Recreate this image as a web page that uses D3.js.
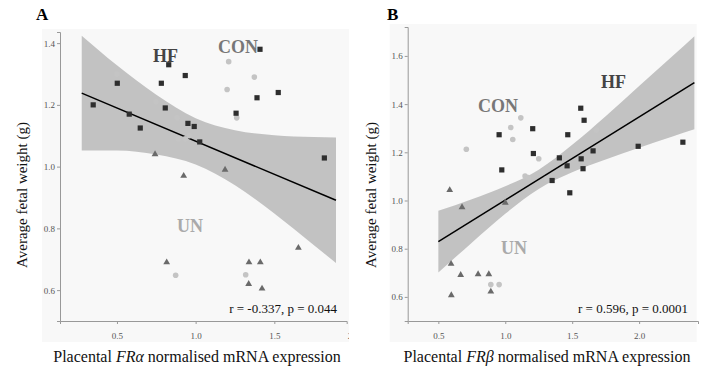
<!DOCTYPE html>
<html>
<head>
<meta charset="utf-8">
<script src="https://cdn.jsdelivr.net/npm/d3@7"></script>
<style>
  body { margin: 0; background: #fff; }
  svg { display: block; }
</style>
</head>
<body>
<script>
// ---- panel A : FR alpha ----
const hfA = [[0.349,1.20],[0.502,1.27],[0.578,1.17],[0.648,1.125],[0.782,1.27],[0.807,1.19],
  [0.829,1.33],[0.934,1.295],[0.951,1.14],[0.991,1.13],[1.026,1.08],[1.257,1.173],
  [1.390,1.223],[1.409,1.38],[1.525,1.24],[1.818,1.028]];
const conA = [[0.50,1.30],[0.748,1.21],[0.883,1.158],[0.890,1.09],[0.934,1.09],[0.958,1.10],
  [1.21,1.34],[1.20,1.25],[1.373,1.29],[1.261,1.158],[0.873,0.648],[1.318,0.65]];
const unA = [[0.742,1.04],[0.924,0.97],[1.187,0.99],[0.816,0.69],[1.339,0.69],[1.411,0.69],
  [1.337,0.62],[1.422,0.605],[1.653,0.737]];
const fitA = [[0.276,1.238],[1.892,0.891]];
const bandA = [[0.276,1.052,1.424],[0.5,1.052,1.328],[0.75,1.039,1.233],[1.0,1.007,1.157],
  [1.25,0.940,1.118],[1.5,0.848,1.102],[1.75,0.746,1.096],[1.892,0.688,1.094]];

// ---- panel B : FR beta ----
const hfB = [[0.954,1.273],[0.974,1.127],[1.205,1.298],[1.21,1.195],[1.35,1.083],[1.404,1.177],
  [1.462,1.144],[1.467,1.273],[1.564,1.383],[1.589,1.333],[1.567,1.173],[1.581,1.132],
  [1.656,1.206],[1.993,1.225],[2.327,1.242],[1.482,1.032]];
const conB = [[0.709,1.213],[1.041,1.303],[1.056,1.253],[1.116,1.343],[1.25,1.173],[1.148,1.102],
  [1.173,1.095],[1.31,1.09],[1.681,1.292],[1.599,1.16],[1.624,1.16],[0.892,0.651],[0.954,0.651]];
const unB = [[0.585,1.043],[0.677,0.972],[1.0,0.991],[0.595,0.737],[0.667,0.691],[0.797,0.694],
  [0.877,0.694],[0.892,0.622],[0.597,0.607]];
const fitB = [[0.5,0.829],[2.413,1.489]];
const bandB = [[0.5,0.701,0.957],[0.75,0.825,1.005],[1.0,0.945,1.059],[1.25,1.048,1.128],
  [1.5,1.117,1.231],[1.75,1.170,1.350],[2.0,1.219,1.475],[2.25,1.266,1.600],[2.413,1.296,1.682]];

const yTicks = [0.6, 0.8, 1.0, 1.2, 1.4, 1.6];
const xTicks = [0.5, 1.0, 1.5, 2.0];

const serif = "'Liberation Serif', 'DejaVu Serif', serif";

const svg = d3.select("body").append("svg")
  .attr("width", 707).attr("height", 370);

svg.append("defs").append("clipPath").attr("id", "clipA")
  .append("rect").attr("x", 0).attr("y", 0).attr("width", 349).attr("height", 370);

function panel(g, o) {
  const x = d3.scaleLinear().domain(o.xDomain).range(o.xRange);
  const y = d3.scaleLinear().domain(o.yDomain).range([321, o.yTop]);

  // faint plot background
  g.append("rect")
    .attr("x", o.xRange[0] - 18).attr("y", o.yTop - 3)
    .attr("width", o.bgW).attr("height", 342 - o.yTop + 3)
    .attr("fill", "#f8f8f8");

  // confidence band
  g.append("path")
    .datum(o.band)
    .attr("fill", "#c2c2c2")
    .attr("d", d3.area().curve(d3.curveMonotoneX)
      .x(d => x(d[0])).y0(d => y(d[1])).y1(d => y(d[2])));

  g.append("path")
    .datum(o.fit)
    .attr("fill", "none").attr("stroke", "#000").attr("stroke-width", 1.5)
    .attr("d", d3.line().x(d => x(d[0])).y(d => y(d[1])));

  // points
  g.append("g").selectAll("circle").data(o.con).join("circle")
    .attr("cx", d => x(d[0])).attr("cy", d => y(d[1])).attr("r", 2.8)
    .attr("fill", "#c4c4c4");
  g.append("g").selectAll("path").data(o.un).join("path")
    .attr("transform", d => `translate(${x(d[0])},${y(d[1])})`)
    .attr("d", d3.symbol(d3.symbolTriangle, 20)())
    .attr("fill", "#6a6a6a");
  g.append("g").selectAll("rect").data(o.hf).join("rect")
    .attr("x", d => x(d[0]) - 2.6).attr("y", d => y(d[1]) - 2.6)
    .attr("width", 5.2).attr("height", 5.2)
    .attr("fill", "#2e2e2e");

  // axes
  const yAx = g.append("g")
    .attr("transform", `translate(${o.xRange[0]},0)`)
    .call(d3.axisLeft(y).tickValues(yTicks.filter(t => t <= o.yDomain[1]))
      .tickFormat(d3.format(".1f")).tickSize(3).tickPadding(2));
  const xAx = g.append("g")
    .attr("transform", "translate(0,321)")
    .call(d3.axisBottom(x).tickValues(xTicks).tickFormat(d3.format(".1f"))
      .tickSize(3).tickPadding(9));
  [yAx, xAx].forEach(a => {
    a.select(".domain").attr("stroke", "#999");
    a.selectAll(".tick line").attr("stroke", "#999");
    a.selectAll("text").attr("fill", "#555")
      .style("font", `9px ${serif}`);
  });

  // group labels
  o.labels.forEach(l => {
    g.append("text").attr("x", l.x).attr("y", l.y)
      .attr("fill", l.c).style("font", `bold 18px ${serif}`)
      .text(l.t);
  });

  g.append("text").attr("x", o.statX).attr("y", 313)
    .attr("text-anchor", "end")
    .style("font", `13px ${serif}`).attr("fill", "#111")
    .text(o.stat);

  g.append("text").attr("x", o.letterX).attr("y", 20)
    .style("font", `bold 17px ${serif}`).text(o.letter);

  g.append("text")
    .attr("transform", `translate(${o.yTitleX},195) rotate(-90)`)
    .attr("text-anchor", "middle")
    .style("font", `15px ${serif}`).attr("fill", "#111")
    .text("Average fetal weight (g)");

  const xt = g.append("text").attr("x", o.xTitleX).attr("y", 362)
    .attr("text-anchor", "middle")
    .style("font", `16px ${serif}`).attr("fill", "#111");
  xt.append("tspan").text("Placental ");
  xt.append("tspan").style("font-style", "italic").text(o.gene);
  xt.append("tspan").text(" normalised mRNA expression");
}

panel(svg.append("g").attr("clip-path", "url(#clipA)"), {
  xDomain: [0.138, 1.96], xRange: [60, 346.7],
  yDomain: [0.5, 1.436], yTop: 32, bgW: 310,
  hf: hfA, con: conA, un: unA, fit: fitA, band: bandA,
  labels: [
    { t: "HF", x: 153, y: 62, c: "#444" },
    { t: "CON", x: 218, y: 53, c: "#777" },
    { t: "UN", x: 177, y: 232, c: "#aaa" }
  ],
  stat: "r = -0.337, p = 0.044", statX: 337,
  letter: "A", letterX: 36, yTitleX: 27, xTitleX: 197, gene: "FRα"
});

panel(svg.append("g"), {
  xDomain: [0.271, 2.44], xRange: [407.7, 698],
  yDomain: [0.5, 1.72], yTop: 27, bgW: 307,
  hf: hfB, con: conB, un: unB, fit: fitB, band: bandB,
  labels: [
    { t: "HF", x: 601, y: 88, c: "#444" },
    { t: "CON", x: 478, y: 112, c: "#777" },
    { t: "UN", x: 501, y: 254, c: "#aaa" }
  ],
  stat: "r = 0.596, p = 0.0001", statX: 688,
  letter: "B", letterX: 387, yTitleX: 376, xTitleX: 547, gene: "FRβ"
});
</script>
</body>
</html>
